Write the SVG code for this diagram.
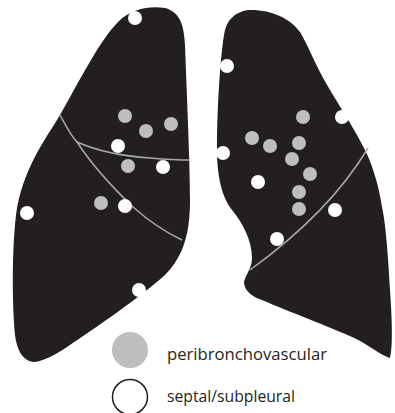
<svg xmlns="http://www.w3.org/2000/svg" width="395" height="413" viewBox="0 0 395 413">
  <style>
    .lung { fill: #231f20; }
    .fissure { fill: none; stroke: #a7a9ac; stroke-width: 1.5; }
    .pb { fill: #bcbec0; }
    .sp { fill: #ffffff; }
    .label { font-family: "Open Sans", "Liberation Sans", sans-serif; font-size: 16px; fill: #231f20; }
  </style>
  <rect width="395" height="413" fill="#ffffff"/>

  <!-- left lung -->
  <g id="left-lung">
    <path class="lung" d="M33,362 C22,360 17,350 15,335 C12,300 12,250 16,215 C22,170 45,140 60,115 C80,80 100,40 118,22 C132,8 150,6 165,8 C180,12 184,25 185,45 C187,100 190,160 190,200 C190,230 185,255 165,275 C140,297 100,325 67,347 C55,355 42,362 33,362 Z"/>
    <path class="fissure" d="M60,115 C66,126 71,136 77,142 C92,165 110,185 133,207 C150,222 165,232 182,240"/>
    <path class="fissure" d="M77,142 C95,150 120,156 150,158 C165,159 178,160 190,160"/>
  </g>

  <!-- right lung -->
  <g id="right-lung">
    <path class="lung" d="M248,10 C235,12 226,20 224,35 C220,60 217,110 217,150 C217,170 220,195 232,210 C242,222 252,240 252,258 C252,268 246,274 244,282 C244,292 255,298 262,300 C290,312 330,327 352,337 C368,344 380,355 390,358 C393,345 392,320 390,290 C388,250 385,220 382,207 C378,180 370,160 365,150 C355,130 342,110 330,90 C315,65 308,45 300,32 C290,18 270,9 248,10 Z"/>
    <path class="fissure" d="M250,270 Q330,212 368,148"/>
  </g>

  <!-- peribronchovascular nodules -->
  <g id="peribronchovascular-nodules">
    <circle class="pb" cx="125" cy="116" r="7"/>
    <circle class="pb" cx="146" cy="131" r="7"/>
    <circle class="pb" cx="171" cy="124" r="7"/>
    <circle class="pb" cx="128" cy="166" r="7"/>
    <circle class="pb" cx="101" cy="203" r="7"/>
    <circle class="pb" cx="252" cy="138" r="7"/>
    <circle class="pb" cx="270" cy="146" r="7"/>
    <circle class="pb" cx="303" cy="117" r="7"/>
    <circle class="pb" cx="299" cy="143" r="7"/>
    <circle class="pb" cx="292" cy="159" r="7"/>
    <circle class="pb" cx="310" cy="174" r="7"/>
    <circle class="pb" cx="299" cy="192" r="7"/>
    <circle class="pb" cx="299" cy="209" r="7"/>
  </g>

  <!-- septal / subpleural nodules -->
  <g id="septal-subpleural-nodules">
    <circle class="sp" cx="135" cy="18" r="7"/>
    <circle class="sp" cx="118" cy="146" r="7"/>
    <circle class="sp" cx="163" cy="167" r="7"/>
    <circle class="sp" cx="125" cy="206" r="7"/>
    <circle class="sp" cx="27" cy="213" r="7"/>
    <circle class="sp" cx="139" cy="290" r="7"/>
    <circle class="sp" cx="227" cy="66" r="7"/>
    <circle class="sp" cx="342" cy="117" r="7"/>
    <circle class="sp" cx="223" cy="153" r="7"/>
    <circle class="sp" cx="258" cy="182" r="7"/>
    <circle class="sp" cx="335" cy="210" r="7"/>
    <circle class="sp" cx="277" cy="239" r="7"/>
  </g>

  <!-- legend -->
  <g id="legend-peribronchovascular">
    <circle class="pb" cx="130" cy="350" r="18"/>
    <text class="label" x="167" y="360" textLength="160" lengthAdjust="spacingAndGlyphs">peribronchovascular</text>
  </g>
  <g id="legend-septal-subpleural">
    <circle cx="130" cy="397" r="17.5" fill="#ffffff" stroke="#231f20" stroke-width="1.5"/>
    <text class="label" x="167" y="402" textLength="128" lengthAdjust="spacingAndGlyphs">septal/subpleural</text>
  </g>
</svg>
